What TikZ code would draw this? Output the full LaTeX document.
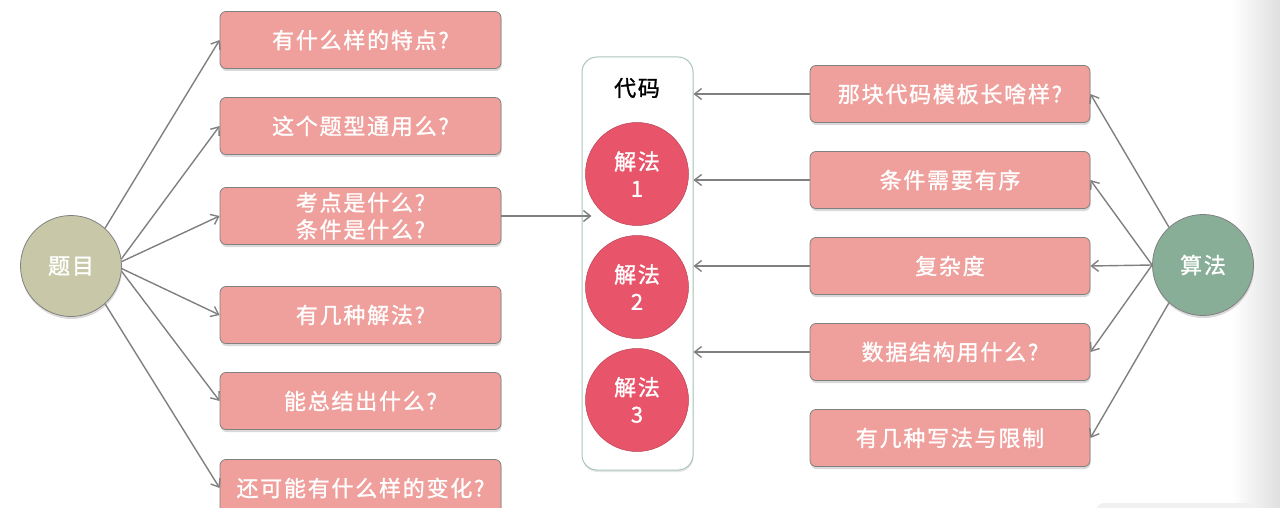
\documentclass[tikz,border=0pt]{standalone}
\usepackage{fontspec}
\setmainfont{Noto Sans CJK SC}[LetterSpace=8]
\newfontfamily\medfont{Noto Sans CJK SC}[LetterSpace=8, FakeBold=1.2]
\usetikzlibrary{arrows.meta,shadows}

\definecolor{boxpink}{RGB}{239,160,156}
\definecolor{topicolive}{RGB}{200,200,168}
\definecolor{algogreen}{RGB}{137,174,152}
\definecolor{solred}{RGB}{232,84,106}
\definecolor{linegray}{RGB}{128,128,128}
\definecolor{framegreen}{RGB}{170,198,188}

\begin{document}
\begin{tikzpicture}[x=1pt,y=-1pt,
    qbox/.style={draw=linegray, fill=boxpink, rounded corners=6pt, line width=0.8pt,
        minimum width=281pt, minimum height=57pt, inner sep=0pt, align=center,
        text=white, font=\medfont\fontsize{22}{27}\selectfont,
        drop shadow={opacity=0.3, shadow xshift=0.6pt, shadow yshift=-2.5pt}},
    hub/.style={circle, draw=linegray, line width=0.8pt, minimum size=101pt, inner sep=0pt,
        text=white, font=\medfont\fontsize{22}{27}\selectfont,
        drop shadow={opacity=0.3, shadow xshift=0.6pt, shadow yshift=-2.5pt}},
    sol/.style={circle, draw=solred!80!black, line width=0.5pt, fill=solred, minimum size=103pt,
        inner sep=0pt, align=center, text=white, font=\medfont\fontsize{22}{27}\selectfont},
    arr/.style={draw=linegray, line width=1.4pt, -{Straight Barb[length=7pt,width=11pt]}}]

            \clip (0,0) rectangle (1280,508);

            % faint page edge of the screenshot
            \shade[left color=white, right color=gray!25] (1232,0) rectangle (1280,508);
            \fill[gray!12, rounded corners=8pt] (1096,503) rectangle (1256,540);

            % the two hubs
            \node [hub, fill=topicolive] (tm) at (71,266) {题目};
            \node [hub, fill=algogreen] (sf) at (1203,265) {算法};

            % questions about the problem
            \foreach \i/\y/\lab in {
            1/40/{有什么样的特点?},
            2/126/{这个题型通用么?},
            3/216/{考点是什么?\\条件是什么?},
            4/315/{有几种解法?},
            5/401/{能总结出什么?},
            6/488/{还可能有什么样的变化?}} {
            \node [qbox] (q\i) at (360.5,\y) {\lab};
            }

            % questions about the algorithm
            \foreach \i/\y/\lab in {
            1/94/{那块代码模板长啥样?},
            2/180/{条件需要有序},
            3/266/{复杂度},
            4/352/{数据结构用什么?},
            5/438/{有几种写法与限制}} {
            \node [qbox, minimum width=280pt] (r\i) at (950,\y) {\lab};
            }

            % the code column with its solutions
            \node [draw=framegreen, fill=white, line width=1pt, rounded corners=15pt,
                minimum width=111pt, minimum height=413pt,
                drop shadow={opacity=0.2, shadow xshift=0.5pt, shadow yshift=-2pt}] (code) at (637.5,263.5) {};
            \node [font=\medfont\fontsize{22}{27}\selectfont] (codetitle) at (637,88) {代码};
            \foreach \i/\y in {1/174, 2/287, 3/400} {
            \node [sol] (s\i) at (637,\y) {解法\\\i};
            }

            % connectors
            \foreach \i/\a in {1/48, 2/8, 3/5, 4/357, 5/354, 6/312} {
            \draw [arr] (tm.\a) -- (q\i.west);
            }
            \foreach \i/\a in {1/132, 2/180, 3/180, 4/180, 5/228} {
            \draw [arr] (sf.\a) -- (r\i.east);
            }
            \foreach \i in {1,...,4} {
            \draw [arr] (r\i.west) -- (r\i.west -| code.east);
            }
            \draw [arr] (q3.east) -- ([xshift=10pt]q3.east -| code.west);

\end{tikzpicture}
\end{document}
